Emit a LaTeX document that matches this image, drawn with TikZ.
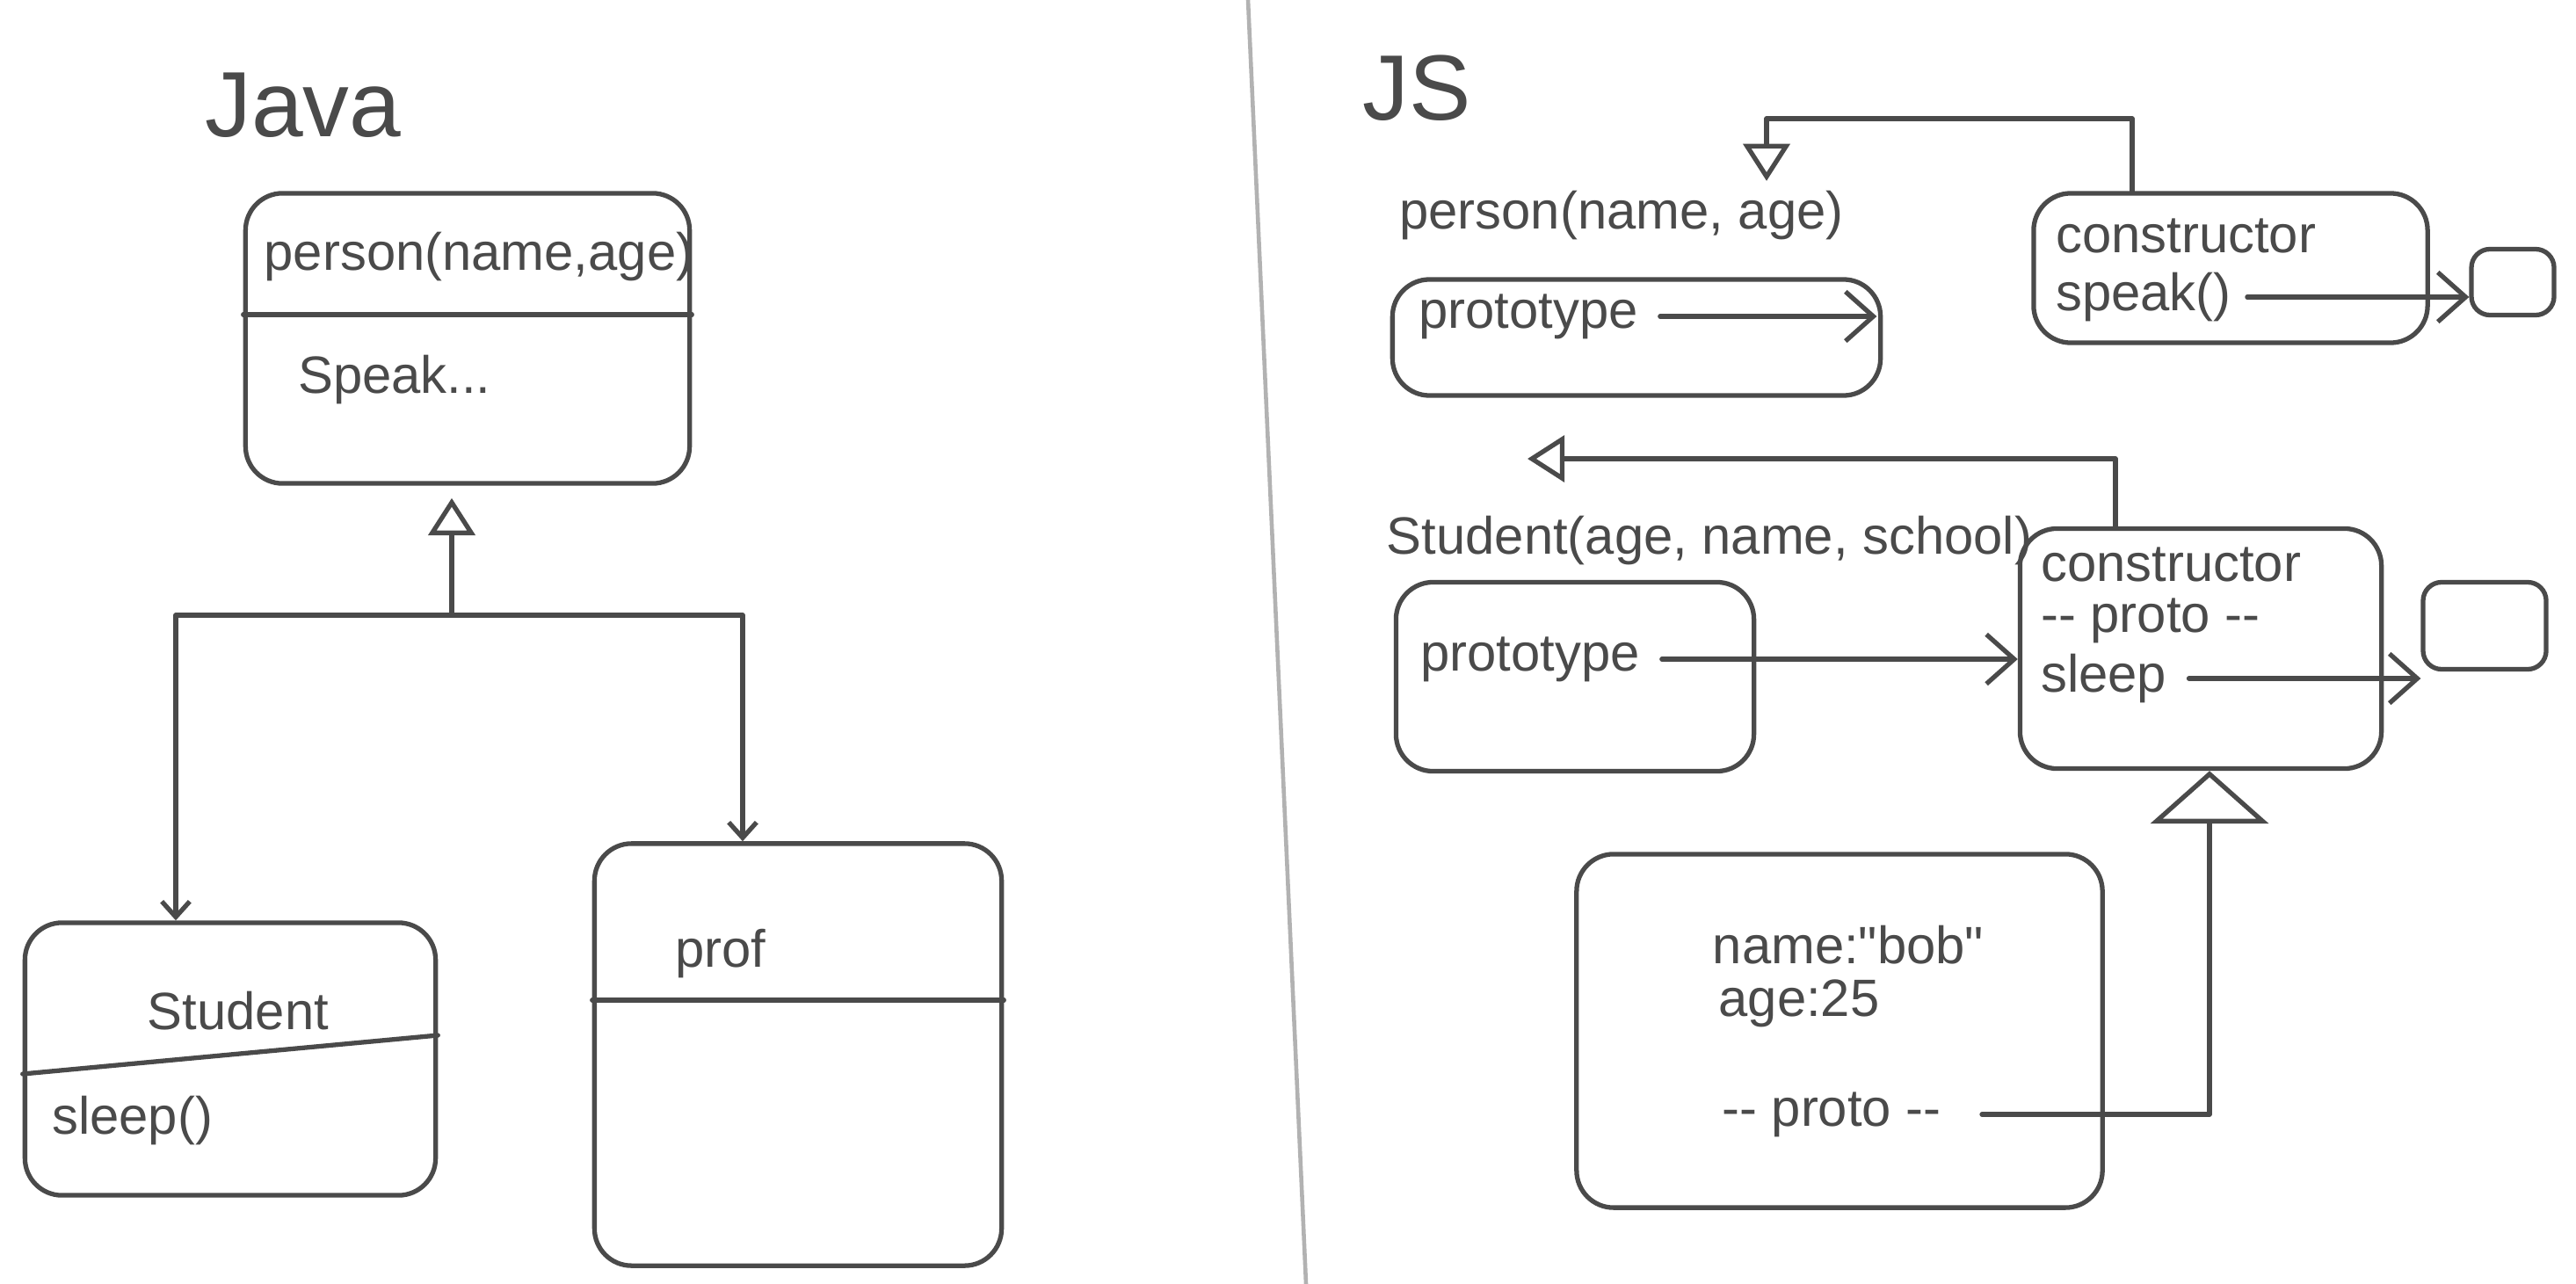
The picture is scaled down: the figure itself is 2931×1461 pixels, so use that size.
\documentclass[tikz,border=0pt]{standalone}
\usepackage{fontspec}
\setmainfont{Liberation Sans}
\newfontfamily\rawfont{Liberation Sans}[Ligatures=TeXOff]
\usetikzlibrary{arrows.meta}
\definecolor{ink}{HTML}{4A4A4A}
\tikzset{
  inkline/.style={draw=ink, line width=1.5pt, line cap=round, line join=round},
  box/.style={inkline, rounded corners=12pt, inner sep=0pt},
  fbox/.style={inkline, rounded corners=6pt, inner sep=0pt},
  lbl/.style={text=ink, font=\fontsize{17}{20}\selectfont, inner sep=1pt},
  title/.style={text=ink, font=\fontsize{30}{36}\selectfont, inner sep=1pt},
  inh/.style={inkline, -{Triangle[open, length=12pt, width=15pt, line width=1.5pt]}},
  bigin/.style={inkline, -{Triangle[open, length=17pt, width=38pt, line width=1.5pt]}},
  ptr/.style={inkline, -{Straight Barb[length=9pt, width=16pt, line width=1.5pt]}},
  tick/.style={inkline, -{Straight Barb[length=5pt, width=9pt, line width=1.5pt]}},
}
\begin{document}
\begin{tikzpicture}[x=0.01cm, y=-0.01cm]
\fill[white] (0,0) rectangle (2931,1461);
\useasboundingbox (0,0) rectangle (2931,1461);

% page divider
\draw[draw=black!30, line width=1.3pt] (1420,0) -- (1486,1461);

% ===== Java =====
\node[title] (java) at (345,120) {Java};

\node[box, minimum width=5.05cm, minimum height=3.3cm] (person) at (532,385) {};
\draw[inkline] (person.west |- 0,358) -- (person.east |- 0,358);
\node[lbl] (jpname) at (545,292) {person(name,age)};
\node[lbl, anchor=west] (jspeak) at (335,432) {Speak...};

\node[box, minimum width=4.67cm, minimum height=3.1cm] (student) at (262,1205) {};
\draw[inkline] (student.west |- 0,1222) -- (student.east |- 0,1178);
\node[lbl] (jstudent) at (271,1150) {Student};
\node[lbl, anchor=west] (jsleep) at (55,1275) {sleep()};

\node[box, minimum width=4.63cm, minimum height=4.8cm] (prof) at (908,1200) {};
\draw[inkline] (prof.west |- 0,1138) -- (prof.east |- 0,1138);
\node[lbl] (jprof) at (820,1085) {prof};

\coordinate (jbar) at (514,700);
\coordinate (jl) at (200,700);
\coordinate (jr) at (845,700);
\draw[inh, shorten >=4pt] (jbar) -- (person.south -| jbar);
\draw[tick] (jbar) -- (jl) -- (jl |- student.north);
\draw[tick] (jbar) -- (jr) -- (jr |- prof.north);

% ===== JS =====
\node[title] (js) at (1612,100) {JS};

% Person
\node[lbl] (pfn) at (1845,245) {person(name, age)};
\node[box, minimum width=5.55cm, minimum height=1.32cm] (pproto) at (1862,384) {};
\node[lbl, anchor=west] (ptxt) at (1610,360) {prototype};
\node[box, minimum width=4.48cm, minimum height=1.7cm] (pobj) at (2538,305) {};
\node[lbl, anchor=west] (pcons) at (2335,268) {constructor};
\node[lbl, anchor=west] (pspeak) at (2335,338) {speak()};
\node[fbox, minimum width=0.94cm, minimum height=0.75cm] (f1) at (2859,321) {};

\draw[ptr, shorten >=50pt] ([xshift=6pt]ptxt.east) -- (pobj.west |- ptxt.east);
\draw[ptr] ([xshift=4pt]pspeak.east) -- (f1.west |- pspeak.east);
\coordinate (c1) at (2426,135);
\coordinate (c2) at (2010,135);
\draw[inh, shorten >=2pt] (pobj.north -| c1) -- (c1) -- (c2) -- (c2 |- pfn.north);

% Student
\node[lbl] (sfn) at (1945,615) {Student(age, name, school)};
\node[box, minimum width=4.07cm, minimum height=2.15cm] (sproto) at (1792,770) {};
\node[lbl, anchor=west] (stxt) at (1612,750) {prototype};
\node[box, minimum width=4.11cm, minimum height=2.73cm] (sobj) at (2504,738) {};
\node[lbl, anchor=west] (scons) at (2318,642) {constructor};
\node[lbl, anchor=west] (sproto2) at (2318,706) {-{}- proto -{}-};
\node[lbl, anchor=west] (ssleep) at (2318,772) {sleep};
\node[fbox, minimum width=1.4cm, minimum height=0.99cm] (f2) at (2827,712) {};

\draw[ptr] ([xshift=6pt]stxt.east) -- (sobj.west |- stxt.east);
\draw[ptr] ([xshift=6pt]ssleep.east) -- (f2.west |- ssleep.east);
\coordinate (c3) at (2407,522);
\coordinate (c4) at (1738,522);
\draw[inh] (sobj.north -| c3) -- (c3) -- (c4);

% bob
\node[box, minimum width=5.98cm, minimum height=4.02cm] (bob) at (2093,1173) {};
\node[lbl] (bname) at (2103,1075) {\rawfont name:"bob"};
\node[lbl] (bage) at (2047,1142) {age:25};
\node[lbl] (bproto) at (2084,1268) {-{}- proto -{}-};
\coordinate (b1) at (2514,1230);
\draw[bigin] ([xshift=12pt]bproto.east) -- (bproto.east -| b1) -- (b1 |- sobj.south);
\end{tikzpicture}
\end{document}
